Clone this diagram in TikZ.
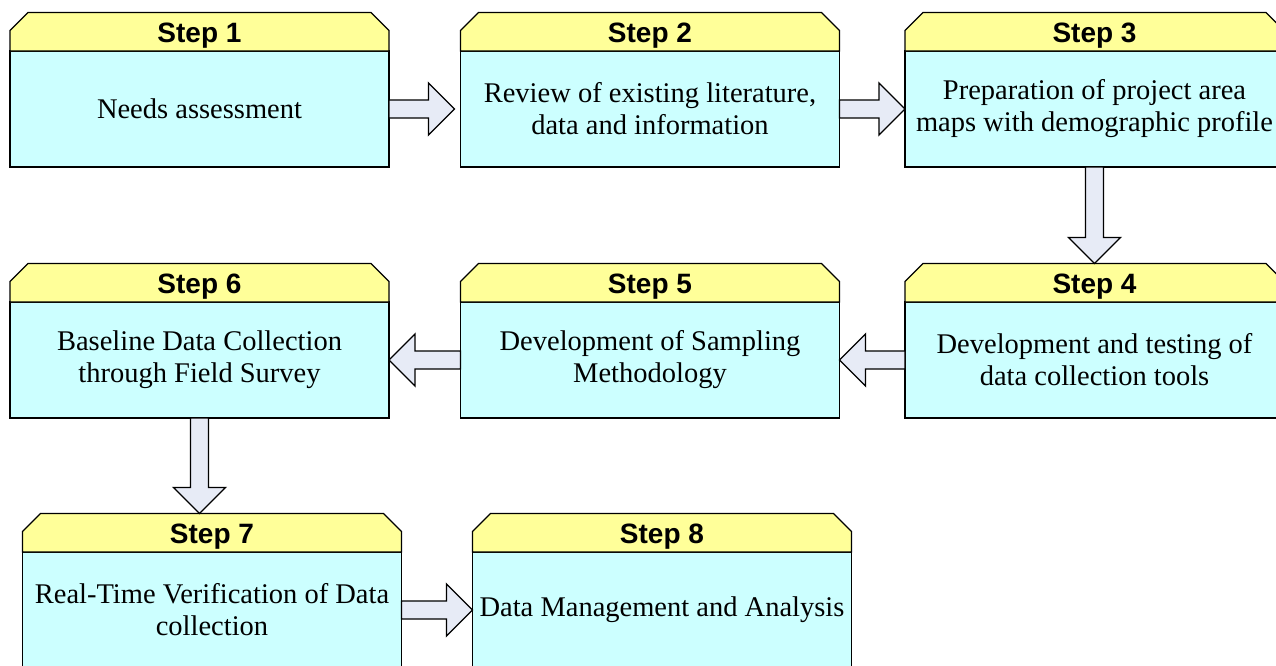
\documentclass[tikz,border=0pt]{standalone}
\usepackage{fontspec}
\setmainfont{Liberation Serif}
\newfontfamily\headfont{Liberation Sans}
\usetikzlibrary{positioning,calc,shapes.misc}

\definecolor{headyellow}{RGB}{255,255,153}
\definecolor{bodycyan}{RGB}{204,255,255}
\definecolor{arrowfill}{RGB}{231,235,246}

% fat block arrows: right, left and down, from a tail point to a tip point
\newcommand{\rarrow}[2]{\draw[barrow] ($(#1)+(0,-9)$) -- ($(#2)+(-26,-9)$) -- ($(#2)+(-26,-26)$) -- (#2)
  -- ($(#2)+(-26,26)$) -- ($(#2)+(-26,9)$) -- ($(#1)+(0,9)$) -- cycle;}
\newcommand{\larrow}[2]{\draw[barrow] ($(#1)+(0,-9)$) -- ($(#2)+(26,-9)$) -- ($(#2)+(26,-26)$) -- (#2)
  -- ($(#2)+(26,26)$) -- ($(#2)+(26,9)$) -- ($(#1)+(0,9)$) -- cycle;}
\newcommand{\darrow}[2]{\draw[barrow] ($(#1)+(-9,0)$) -- ($(#2)+(-9,-26)$) -- ($(#2)+(-26,-26)$) -- (#2)
  -- ($(#2)+(26,-26)$) -- ($(#2)+(9,-26)$) -- ($(#1)+(9,0)$) -- cycle;}

\begin{document}
\begin{tikzpicture}[x=1pt,y=-1pt]
\tikzset{body/.style={rectangle,draw,line width=1.3pt,fill=bodycyan,outer sep=0pt,
    minimum width=379pt,minimum height=116pt,align=center,font=\fontsize{28.5}{32}\selectfont}}
\tikzset{head/.style={chamfered rectangle,chamfered rectangle corners={north west,north east},
    chamfered rectangle xsep=9pt,chamfered rectangle ysep=9pt,draw,line width=1.3pt,fill=headyellow,
    outer sep=0pt,inner sep=0pt,minimum width=379pt,text height=20.5pt,text depth=0pt,
    font=\headfont\bfseries\fontsize{28}{30}\selectfont}}
\tikzset{barrow/.style={draw,line width=1.3pt,fill=arrowfill,line join=miter}}

  \useasboundingbox (0,0) rectangle (1276,665);
  \clip (0,0) rectangle (1276,665);

  \node[body] (b1) at (199.5,109) {Needs assessment};
  \node[body] (b2) at (650,109)   {Review of existing literature,\\data and information};
  \node[body] (b3) at (1094.5,109) {Preparation of project area\\maps with demographic profile};
  \node[body] (b4) at (1094.5,360) {Development and testing of\\data collection tools};
  \node[body] (b5) at (650,360)   {Development of Sampling\\Methodology};
  \node[body] (b6) at (199.5,360) {Baseline Data Collection\\through Field Survey};
  \node[body] (b7) at (212,610)   {Real-Time Verification of Data\\collection};
  \node[body] (b8) at (662,610)   {Data Management and Analysis};

  \node[head,above=0pt of b1] (h1) {Step 1};
  \node[head,above=0pt of b2] (h2) {Step 2};
  \node[head,above=0pt of b3] (h3) {Step 3};
  \node[head,above=0pt of b4] (h4) {Step 4};
  \node[head,above=0pt of b5] (h5) {Step 5};
  \node[head,above=0pt of b6] (h6) {Step 6};
  \node[head,above=0pt of b7] (h7) {Step 7};
  \node[head,above=0pt of b8] (h8) {Step 8};

  \coordinate (t12) at ($(b2.west)+(-6,0)$);
  \coordinate (t67) at (b6.south |- h7.north);

  \rarrow{b1.east}{t12}
  \rarrow{b2.east}{b3.west}
  \darrow{b3.south}{h4.north}
  \larrow{b4.west}{b5.east}
  \larrow{b5.west}{b6.east}
  \darrow{b6.south}{t67}
  \rarrow{b7.east}{b8.west}
\end{tikzpicture}
\end{document}
